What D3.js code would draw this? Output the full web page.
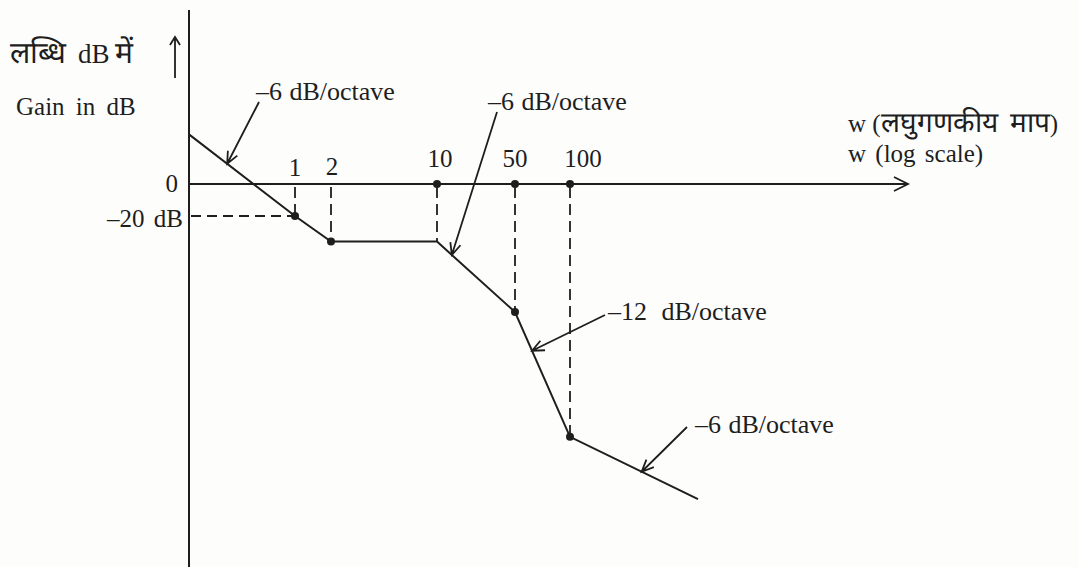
<!DOCTYPE html>
<html><head><meta charset="utf-8">
<script src="https://cdn.jsdelivr.net/npm/d3@7"></script>
<style>
html,body{margin:0;padding:0;background:#fdfdfc;}
svg{display:block;}
</style></head>
<body>
<svg id="c" width="1079" height="567"></svg>
<script>
// ---- data ----
const cornerFreqs = [1, 2, 10, 50, 100];           // tick labels on the w axis
const tickLabels = ["1", "2", "10", "50", "100"];
const curveW  = [0.15, 1, 2, 10, 50, 100, 300];      // asymptote vertices (rad/s)
const curveDb = [31, -20, -36, -36, -80, -158, -197]; // gain at vertices (dB)
const axisDots = [10, 50, 100];                      // dots on the 0 dB axis
const curveDots = [1, 2, 50, 100];                   // dots on the curve
const slopeLabels = ["\u20136 dB/octave", "\u20136 dB/octave", "\u201312 dB/octave", "\u20136 dB/octave"];
const slopeSegments = [0, 3, 4, 5];                  // which segment each label points to
const yLabels = ["0", "\u201320 dB"];
const yLabelValues = [0, -20];

// ---- scales (schematic log axis) ----
const x = d3.scaleLog().domain([0.15, 1, 2, 10, 50, 100, 300, 1000])
  .range([189, 295, 331, 437, 515, 570, 698, 908]);
const y = d3.scaleLinear().domain([-240, 110]).range([568, 8]);

const FONT = "'Liberation Serif', 'Times New Roman', Times, 'DejaVu Serif', serif";
const svg = d3.select("#c").attr("font-family", FONT);
const ink = "#1e1e1e";

// axes
svg.append("line").attr("x1", x(0.15)).attr("x2", x(0.15)).attr("y1", 10).attr("y2", 567)
  .attr("stroke", ink).attr("stroke-width", 2);
svg.append("line").attr("x1", x(0.15)).attr("x2", x(1000)).attr("y1", y(0)).attr("y2", y(0))
  .attr("stroke", ink).attr("stroke-width", 2);
svg.append("path")
  .attr("d", `M${x(1000)-14},${y(0)-7}L${x(1000)},${y(0)}L${x(1000)-14},${y(0)+7}`)
  .attr("fill", "none").attr("stroke", ink).attr("stroke-width", 1.8);

// y arrow beside label
svg.append("path").attr("d", "M175,78L175,37M170,45L175,37L180,45")
  .attr("fill", "none").attr("stroke", ink).attr("stroke-width", 1.8);

// dashed guides
const dbAt = w => curveDb[curveW.indexOf(w)];
cornerFreqs.forEach(w => {
  svg.append("line").attr("x1", x(w)).attr("x2", x(w)).attr("y1", y(0) + 3).attr("y2", y(dbAt(w)))
    .attr("stroke", ink).attr("stroke-width", 1.8).attr("stroke-dasharray", "11,6");
});
svg.append("line").attr("x1", x(0.15) + 2).attr("x2", x(1)).attr("y1", y(-20)).attr("y2", y(-20))
  .attr("stroke", ink).attr("stroke-width", 1.8).attr("stroke-dasharray", "10,6");

// asymptotic curve
const pts = curveW.map((w, i) => [x(w), y(curveDb[i])]);
svg.append("path").attr("d", d3.line()(pts)).attr("fill", "none")
  .attr("stroke", ink).attr("stroke-width", 2);

// dots
axisDots.forEach(w => svg.append("circle").attr("cx", x(w)).attr("cy", y(0)).attr("r", 4).attr("fill", ink));
curveDots.forEach(w => svg.append("circle").attr("cx", x(w)).attr("cy", y(dbAt(w))).attr("r", 4).attr("fill", ink));

function txt(xp, yp, size, s) {
  return svg.append("text").attr("x", xp).attr("y", yp).attr("font-size", size)
    .attr("font-family", FONT).attr("fill", ink).text(s);
}

// tick labels
const tickDx = [0, 1, 3, 0, 13];
const tickDy = [-8, -9, -17, -17, -17];
tickLabels.forEach((t, i) => {
  txt(x(cornerFreqs[i]) + tickDx[i], y(0) + tickDy[i], 25, t).attr("text-anchor", "middle");
});

// y labels
const yLabelX = [178, 183];
const yLabelDy = [8, 11];
yLabels.forEach((t, i) => {
  txt(yLabelX[i], y(yLabelValues[i]) + yLabelDy[i], 25, t).attr("text-anchor", "end")
    .attr("word-spacing", 3);
});

// axis titles
const t1 = txt(10, 63, 27, null);
t1.append("tspan").attr("font-size", 30).text("लब्धि");
t1.append("tspan").attr("dx", 12).text("dB");
t1.append("tspan").attr("dx", 5).attr("font-size", 30).text("में");
txt(16, 115, 25, "Gain in dB").attr("word-spacing", 5);
const t2 = txt(848, 132, 25, null);
t2.append("tspan").text("w (");
t2.append("tspan").attr("font-size", 28).text("लघुगणकीय");
t2.append("tspan").attr("dx", 12).attr("font-size", 28).text("माप");
t2.append("tspan").text(")");
txt(848, 162, 25, "w (log scale)").attr("word-spacing", 3);

// slope annotations
const annTextPos = [[256, 100], [488, 110], [608, 320], [695, 433]];
const annTail = [[259, 102], [497, 112], [605, 315], [687, 427]];
const annT = [0.36, 0.19, 0.31, 0.56];
slopeLabels.forEach((lab, i) => {
  const s = slopeSegments[i];
  const p0 = pts[s], p1 = pts[s + 1];
  const tip = [p0[0] + (p1[0] - p0[0]) * annT[i], p0[1] + (p1[1] - p0[1]) * annT[i]];
  const tail = annTail[i];
  const ang = Math.atan2(tip[1] - tail[1], tip[0] - tail[0]);
  const L = 13, a = 0.42;
  const h1 = [tip[0] - L * Math.cos(ang - a), tip[1] - L * Math.sin(ang - a)];
  const h2 = [tip[0] - L * Math.cos(ang + a), tip[1] - L * Math.sin(ang + a)];
  svg.append("path")
    .attr("d", `M${tail}L${tip}M${h1}L${tip}L${h2}`)
    .attr("fill", "none").attr("stroke", ink).attr("stroke-width", 1.8);
  txt(annTextPos[i][0], annTextPos[i][1], 26, lab).attr("word-spacing", i === 2 ? 8 : 1);
});
</script>
</body></html>
